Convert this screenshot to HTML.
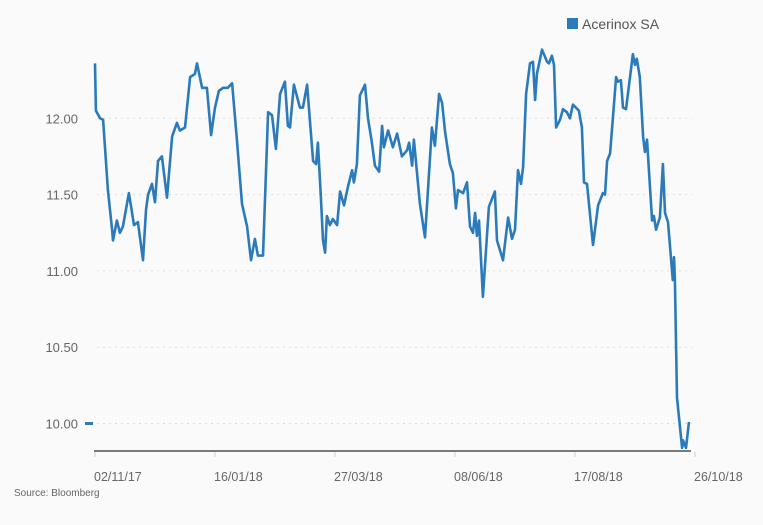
<!DOCTYPE html>
<html><head><meta charset="utf-8"><style>
html,body{margin:0;padding:0;background:#fafafa;}
svg{display:block;font-family:"Liberation Sans",sans-serif;}
</style></head><body>
<svg id="chart" width="763" height="525">
<rect width="763" height="525" fill="#fafafa"/>
<g>
<rect x="567" y="18" width="11" height="11" fill="#2b7bba"/>
<text x="582" y="29" font-size="14" fill="#555">Acerinox SA</text>
</g>
<g id="grid"></g>
<g id="yaxis"></g>
<g id="xaxis"></g>
<g id="series"></g>
<text x="14" y="496" font-size="10" fill="#666">Source: Bloomberg</text>
</svg>
<script>
const xTickLabels = ["02/11/17","16/01/18","27/03/18","08/06/18","17/08/18","26/10/18"];
const xTickDays = [0,52,104,156,208,260];
const yTicks = [10.0,10.5,11.0,11.5,12.0];
const days = [0,0.4,2.2,3.5,5.6,7.4,7.8,9.5,10.8,12.1,14.7,16.9,18.6,20.8,22.1,23.0,24.7,26.0,27.3,29.0,31.2,33.4,35.5,36.8,39.0,41.2,43.3,44.2,46.4,48.5,50.3,52.0,53.7,55.5,57.6,59.4,61.5,63.7,65.9,67.6,69.3,70.6,72.8,75.0,76.7,78.4,80.2,82.3,83.6,84.5,86.2,88.8,90.1,91.9,94.5,95.8,96.6,97.9,98.8,99.7,100.5,101.8,103.1,104.9,106.2,107.9,109.6,111.4,112.2,113.5,114.8,117.0,118.3,120.0,121.3,123.1,124.4,125.2,127.0,129.1,130.9,133.0,135.2,136.1,137.4,138.2,140.8,143.0,146.0,147.3,149.1,150.4,151.7,153.8,155.1,156.4,157.3,159.5,161.2,162.5,163.8,164.7,165.5,166.4,168.1,170.7,173.3,174.2,176.8,179.0,180.7,182.0,183.3,184.6,185.5,186.8,188.5,189.8,190.7,191.5,193.7,195.9,196.7,198.0,198.9,199.8,201.5,202.8,204.5,205.8,207.1,209.7,211.0,211.9,213.2,215.8,218.0,220.1,221.0,221.9,223.2,225.8,226.6,227.9,228.8,230.1,233.1,234.0,234.8,236.1,237.5,238.3,239.2,241.4,242.2,243.1,244.8,246.1,247.0,248.3,250.4,250.9,251.3,252.2,254.4,254.8,256.1,257.4];
const prices = [12.36,12.05,12.00,11.99,11.53,11.27,11.20,11.33,11.25,11.29,11.51,11.30,11.32,11.07,11.40,11.50,11.57,11.45,11.72,11.75,11.48,11.88,11.97,11.92,11.94,12.27,12.29,12.36,12.20,12.20,11.89,12.07,12.18,12.20,12.20,12.23,11.86,11.44,11.29,11.07,11.21,11.10,11.10,12.04,12.02,11.80,12.16,12.24,11.95,11.94,12.22,12.07,12.07,12.22,11.72,11.70,11.84,11.48,11.20,11.12,11.36,11.30,11.34,11.30,11.52,11.43,11.55,11.66,11.58,11.70,12.15,12.22,12.00,11.84,11.69,11.65,11.95,11.81,11.92,11.81,11.90,11.75,11.79,11.84,11.69,11.86,11.44,11.22,11.94,11.82,12.16,12.10,11.91,11.70,11.64,11.41,11.53,11.51,11.58,11.29,11.25,11.38,11.23,11.33,10.83,11.42,11.52,11.20,11.07,11.35,11.21,11.27,11.66,11.57,11.68,12.16,12.36,12.37,12.12,12.29,12.45,12.37,12.36,12.41,12.35,11.94,11.99,12.06,12.04,12.00,12.09,12.05,11.94,11.58,11.57,11.17,11.43,11.51,11.50,11.72,11.77,12.27,12.24,12.25,12.07,12.06,12.42,12.35,12.39,12.27,11.88,11.78,11.86,11.33,11.36,11.27,11.35,11.70,11.38,11.32,10.94,11.09,10.94,10.17,9.84,9.89,9.84,10.01];

const NS = "http://www.w3.org/2000/svg";
const X0 = 95, XPX = 120/52;
const Y0 = 423.5, YMIN = 10.0, YPX = 152.6;
const xs = d => X0 + d*XPX;
const ys = v => Y0 - (v - YMIN)*YPX;
function mk(tag, parent){ const e = document.createElementNS(NS, tag); parent.appendChild(e); return e; }

const grid = document.getElementById('grid');
const yaxis = document.getElementById('yaxis');
yTicks.forEach(t => {
  const l = mk('line', grid);
  
  
  l.setAttribute('x1', 97); l.setAttribute('x2', 692);
  l.setAttribute('y1', ys(t)); l.setAttribute('y2', ys(t));
  l.setAttribute('stroke', '#dcdcdc'); l.setAttribute('stroke-dasharray', '2,4');
  const tx = mk('text', yaxis);
  
  
  tx.setAttribute('x', 78); tx.setAttribute('y', ys(t) + 5);
  tx.setAttribute('text-anchor', 'end'); tx.setAttribute('font-size', '13'); tx.setAttribute('fill', '#666');
  tx.textContent = t.toFixed(2);
});
const dash = mk('rect', yaxis);


dash.setAttribute('x', 85); dash.setAttribute('y', ys(10) - 1.5); dash.setAttribute('width', 8); dash.setAttribute('height', 3);
dash.setAttribute('fill', '#2b7bba');

const xaxis = document.getElementById('xaxis');
const base = mk('line', xaxis);


base.setAttribute('x1', 94); base.setAttribute('x2', 691); base.setAttribute('y1', 451); base.setAttribute('y2', 451);
base.setAttribute('stroke', '#7a7a7a'); base.setAttribute('stroke-width', 2);
xTickDays.forEach((d, i) => {
  const tk = mk('line', xaxis);
  
  
  tk.setAttribute('x1', xs(d)); tk.setAttribute('x2', xs(d)); tk.setAttribute('y1', 452); tk.setAttribute('y2', 457);
  tk.setAttribute('stroke', '#ccc');
  const tx = mk('text', xaxis);
  
  
  tx.setAttribute('x', xs(d) - 1); tx.setAttribute('y', 481);
  tx.setAttribute('font-size', '12.5'); tx.setAttribute('fill', '#666');
  tx.textContent = xTickLabels[i];
});

const series = document.getElementById('series');
const path = mk('path', series);


path.setAttribute('d', prices.map((v, i) => (i ? 'L' : 'M') + xs(days[i]).toFixed(1) + ',' + ys(v).toFixed(1)).join(''));
path.setAttribute('fill', 'none'); path.setAttribute('stroke', '#2b7bba');
path.setAttribute('stroke-width', '2.6'); path.setAttribute('stroke-linejoin', 'round');
</script>
</body></html>
